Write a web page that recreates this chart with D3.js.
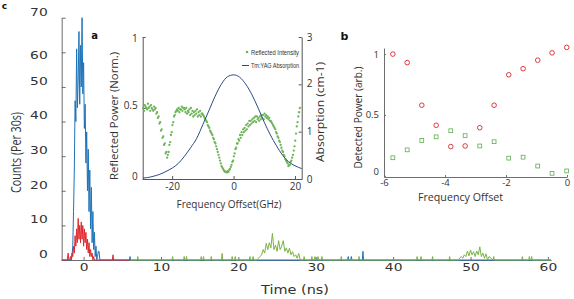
<!DOCTYPE html>
<html><head><meta charset="utf-8">
<script src="https://cdn.jsdelivr.net/npm/d3@7"></script>
<style>body{margin:0;background:#fff}svg{display:block}</style>
</head><body>
<svg id="c" width="574" height="299"></svg>
<script>
// ===== DATA =====
// main histogram (panel c)
const timeTicks = [0, 10, 20, 30, 40, 50, 60];
const countTicks = [0, 10, 20, 30, 40, 50, 60, 70];
const binStep = 0.1;
const blueStart = -1.6;
const blueCounts = [0,1,4,14,26,46,40,61,44,52,66,45,62,50,70,48,57,38,45,28,37,20,32,14,26,9,21,5,14,3,8,1,4,0,1,2.5,2.5,0];
const redStart = -2.2;
const redCounts = [0,0,2,0,0,1,0,2,1,4,2,7,4,9,5,12,6,10,5,11,6,10,4,9,5,8,3,6,2,5,1,3,1,2,0,1,0];
const blueSpikeTimes = [6.0, 34.2, 34.6, 36.1];
const blueSpikeCounts = [1, 1, 1, 2.5];
const redSpikeTimes = [3.8];
const redSpikeCounts = [1.5];
const greenSpikeTimes = [7.0,11.5,13.0,13.3,15.2,15.5,16.5,17.9,19.2,19.6,21.5,21.9,28.5,29.5,29.9,30.3,30.8,33.3,35.6,43.1,43.6,45.1,47.3,53.0,56.7,57.6,57.9];
const greenSpikeCounts = [1,1,1,1,1,1,1,1.9,1,1,1,1,1,1,1,1,1,1,1,1,1,1,1,1,1,1,1];
const greenCluster1Start = 22.6, greenClusterStep = 0.2;
const greenCluster1 = [0.5,1,1.5,3,2,4.8,3,5,3.5,7.7,3,4.3,2.5,5.6,3,4,5.6,2.5,3.5,2,3.4,1.5,2.4,1,1.5,0.5,1.9,0];
const greenCluster2Start = 48.6;
const greenCluster2 = [0.5,1,0.5,1.5,1,2.6,1.2,2.9,1.5,2.4,1,2.6,1.5,3.8,1,2,0.5,1.8,0,1];

// inset a
const freqTicksA = [-20, 0, 20];
const reflTicks = [0, 0.5, 1];
const absTicks = [0, 1, 2, 3];
const reflAStart = -29.4, reflStep = 0.5;
const reflA = [0.50,0.52,0.50,0.53,0.51,0.52,0.49,0.51,0.50,0.47,0.44,0.40,0.35,0.30,0.25,0.19,0.17,0.24,0.31,0.38,0.44,0.47,0.49,0.50,0.49,0.51,0.50,0.49,0.50,0.48,0.49,0.50,0.48,0.47,0.48,0.49,0.47,0.48,0.46,0.45,0.43,0.41,0.38,0.36,0.33,0.31,0.28,0.25,0.21,0.17,0.13,0.09,0.07,0.055,0.05,0.055,0.065,0.085,0.12,0.16,0.21,0.25,0.28,0.31,0.33,0.35,0.36,0.38,0.39,0.41,0.41,0.42,0.43,0.44,0.44,0.43,0.44,0.45,0.45,0.46,0.45,0.44,0.43,0.41,0.39,0.37,0.35,0.32,0.29,0.26,0.22,0.19,0.16,0.13,0.11,0.10,0.12,0.15,0.20,0.27,0.37,0.44,0.50];
const reflBStart = -29.15;
const reflB = [0.48,0.51,0.49,0.50,0.48,0.50,0.48,0.49,0.46,0.43,0.39,0.34,0.29,0.24,0.18,0.15,0.19,0.26,0.33,0.40,0.45,0.48,0.48,0.47,0.49,0.48,0.50,0.47,0.46,0.47,0.45,0.46,0.44,0.45,0.46,0.44,0.45,0.44,0.46,0.44,0.42,0.40,0.37,0.34,0.32,0.29,0.26,0.23,0.19,0.15,0.11,0.08,0.06,0.05,0.045,0.05,0.07,0.10,0.13,0.18,0.22,0.25,0.27,0.29,0.31,0.33,0.34,0.35,0.37,0.38,0.39,0.40,0.41,0.40,0.42,0.41,0.42,0.43,0.42,0.44,0.43,0.42,0.41,0.40,0.38,0.36,0.33,0.30,0.27,0.24,0.20,0.17,0.14,0.12,0.09,0.10,0.13,0.17,0.23,0.32,0.40,0.47];
const absFreq = [-29.5,-28,-26,-24,-22,-20,-18,-16,-14,-12,-10,-8,-6,-4,-2,0,2,4,6,8,10,12,14,16,18,20,22.2];
const absValues = [0.02,0.03,0.06,0.10,0.16,0.23,0.33,0.48,0.66,0.86,1.15,1.45,1.75,2.0,2.16,2.2,2.15,2.0,1.78,1.5,1.2,0.93,0.7,0.5,0.36,0.28,0.22];
const legendA = ["Reflected Intensity", "Tm:YAG Absorption"];

// panel b
const freqTicksB = [-6, -4, -2, 0];
const powerTicksB = [0, 0.5, 1];
const freqB = [-5.71,-5.24,-4.76,-4.29,-3.81,-3.34,-2.86,-2.39,-1.91,-1.44,-0.96,-0.49,-0.01];
const redB = [1.0,0.93,0.58,0.415,0.24,0.245,0.395,0.58,0.83,0.88,0.95,1.01,1.055];
const greenB = [0.148,0.213,0.29,0.32,0.37,0.33,0.245,0.28,0.145,0.153,0.08,0.02,0.04];

// ===== DRAW =====
const svg = d3.select('#c');
const BLUE = '#1f73b7', RED = '#e0282e', GREEN = '#78b443', AX = '#6e6e6e', TXT = '#333';
const plain = d => String(d);

function stretch(sel, perChar) {
  sel.attr('textLength', function(){ return this.textContent.length * perChar; })
     .attr('lengthAdjust', 'spacingAndGlyphs');
}

// ---- main panel c ----
const xM = d3.scaleLinear().domain([-2.83, 60.4]).range([61.7, 551]);
const yM = d3.scaleLinear().domain([0, 70]).range([260, 17.7]);

const gxM = svg.append('g').attr('transform', `translate(0,${yM(0)})`)
  .call(d3.axisBottom(xM).tickValues(timeTicks).tickFormat(plain).tickSize(-3).tickSizeOuter(0).tickPadding(4));
const gyM = svg.append('g').attr('transform', `translate(${xM.range()[0]},0)`)
  .call(d3.axisLeft(yM).tickValues(countTicks).tickFormat(plain).tickSize(-4).tickSizeOuter(0).tickPadding(14));
[gxM, gyM].forEach(g => {
  g.selectAll('path,line').attr('stroke', AX);
  g.selectAll('text').attr('font-family', 'DejaVu Sans').attr('font-size', 10.5).attr('fill', TXT);
  stretch(g.selectAll('text'), 8.8);
});
gyM.selectAll('text').attr('y', d => d === 60 ? 2.5 : -6);

const lineM = d3.line().x(d => xM(d[0])).y(d => yM(d[1]));
function bins(start, step, vals) { return vals.map((v, i) => [start + i * step, v]); }
function spikes(times, vals) {
  const p = [];
  times.forEach((t, i) => { p.push([t - 0.08, 0], [t, vals[i]], [t + 0.08, 0]); });
  return p;
}
const byT = (a, b) => a[0] - b[0];

const bluePts = [[-2.83, 0], ...bins(blueStart, binStep, blueCounts), ...spikes(blueSpikeTimes, blueSpikeCounts), [60.4, 0]].sort(byT);
const redPts = [[-2.83, 0], ...bins(redStart, binStep, redCounts), ...spikes(redSpikeTimes, redSpikeCounts), [6.0, 0]].sort(byT);
const greenPts = [[6.0, 0], ...spikes(greenSpikeTimes, greenSpikeCounts),
  [greenCluster1Start - 0.2, 0], ...bins(greenCluster1Start, greenClusterStep, greenCluster1),
  [greenCluster2Start - 0.2, 0], ...bins(greenCluster2Start, greenClusterStep, greenCluster2), [60.4, 0]].sort(byT);

svg.append('path').attr('d', lineM(bluePts)).attr('fill', 'none').attr('stroke', BLUE).attr('stroke-width', 1);
svg.append('path').attr('d', lineM(redPts)).attr('fill', 'none').attr('stroke', RED).attr('stroke-width', 1);
svg.append('path').attr('d', lineM(greenPts)).attr('fill', 'none').attr('stroke', GREEN).attr('stroke-width', 1);

svg.append('text').attr('x', 295).attr('y', 289).attr('text-anchor', 'middle').attr('dominant-baseline', 'central')
  .attr('font-family', 'DejaVu Sans').attr('font-size', 12.5).attr('fill', TXT)
  .attr('textLength', 68).attr('lengthAdjust', 'spacingAndGlyphs').text('Time (ns)');
svg.append('text').attr('transform', 'translate(15,152.5) rotate(-90)').attr('text-anchor', 'middle').attr('dominant-baseline', 'central')
  .attr('font-family', 'Open Sans').attr('font-size', 15).attr('fill', TXT)
  .attr('textLength', 81).attr('lengthAdjust', 'spacingAndGlyphs').text('Counts (Per 30s)');

// ---- inset a ----
const xA = d3.scaleLinear().domain([-29.6, 22.2]).range([142.7, 301.7]);
const yAL = d3.scaleLinear().domain([0, 1]).range([179, 37]);
const yAR = d3.scaleLinear().domain([0, 3]).range([179, 37]);

const gxA = svg.append('g').attr('transform', `translate(0,${yAL(0)})`)
  .call(d3.axisBottom(xA).tickValues(freqTicksA).tickFormat(plain).tickSize(-3).tickSizeOuter(0).tickPadding(4));
const gyAL = svg.append('g').attr('transform', `translate(${xA.range()[0]},0)`)
  .call(d3.axisLeft(yAL).tickValues(reflTicks).tickFormat(plain).tickSize(-3).tickSizeOuter(0).tickPadding(5));
const gyAR = svg.append('g').attr('transform', `translate(${xA.range()[1]},0)`)
  .call(d3.axisRight(yAR).tickValues(absTicks).tickFormat(plain).tickSize(-3).tickSizeOuter(0).tickPadding(5));
[gxA, gyAL, gyAR].forEach(g => {
  g.selectAll('path,line').attr('stroke', '#555');
  g.selectAll('text').attr('font-family', 'Open Sans').attr('font-size', 10).attr('fill', TXT);
});
gyAL.selectAll('text').attr('y', d => d === 1 ? 1 : -3);
gyAR.selectAll('text').attr('y', d => d === 2 ? -1 : 0);

const dotsA = [...bins(reflAStart, reflStep, reflA), ...bins(reflBStart, reflStep, reflB)];
svg.append('g').selectAll('circle').data(dotsA).join('circle')
  .attr('cx', d => xA(d[0])).attr('cy', d => yAL(d[1])).attr('r', 1.15).attr('fill', '#6db35a');
const absLine = d3.line().x((d, i) => xA(absFreq[i])).y(d => yAR(d)).curve(d3.curveMonotoneX);
svg.append('path').attr('d', absLine(absValues)).attr('fill', 'none').attr('stroke', '#2d4a86').attr('stroke-width', 1);

// legend
svg.append('circle').attr('cx', 247).attr('cy', 52).attr('r', 1.3).attr('fill', '#6db35a');
svg.append('line').attr('x1', 242).attr('x2', 249).attr('y1', 65.5).attr('y2', 65.5).attr('stroke', '#2d4a86');
legendA.forEach((t, i) => {
  svg.append('text').attr('x', 251).attr('y', 52 + i * 13.5).attr('dominant-baseline', 'central')
    .attr('font-family', 'Liberation Sans').attr('font-size', 7.5).attr('fill', '#333')
    .attr('textLength', 48).attr('lengthAdjust', 'spacingAndGlyphs').text(t);
});

svg.append('text').attr('transform', 'translate(113.5,116) rotate(-90)').attr('text-anchor', 'middle').attr('dominant-baseline', 'central')
  .attr('font-family', 'Open Sans').attr('font-size', 11.5).attr('fill', TXT)
  .attr('textLength', 128).attr('lengthAdjust', 'spacingAndGlyphs').text('Reflected Power (Norm.)');
svg.append('text').attr('transform', 'translate(319,112) rotate(-90)').attr('text-anchor', 'middle').attr('dominant-baseline', 'central')
  .attr('font-family', 'Open Sans').attr('font-size', 11.5).attr('fill', TXT)
  .attr('textLength', 100).attr('lengthAdjust', 'spacingAndGlyphs').text('Absorption (cm-1)');
svg.append('text').attr('x', 229).attr('y', 203).attr('text-anchor', 'middle').attr('dominant-baseline', 'central')
  .attr('font-family', 'Open Sans').attr('font-size', 11.5).attr('fill', TXT)
  .attr('textLength', 105).attr('lengthAdjust', 'spacingAndGlyphs').text('Frequency Offset(GHz)');

// ---- panel b ----
const xB = d3.scaleLinear().domain([-6, 0]).range([384, 567]);
const yB = d3.scaleLinear().domain([-0.01, 1.05]).range([177, 48]);
const gxB = svg.append('g').attr('transform', `translate(0,${yB.range()[0]})`)
  .call(d3.axisBottom(xB).tickValues(freqTicksB).tickFormat(plain).tickSize(-2).tickSizeOuter(0).tickPadding(2));
const gyB = svg.append('g').attr('transform', `translate(${xB.range()[0]},0)`)
  .call(d3.axisLeft(yB).tickValues(powerTicksB).tickFormat(plain).tickSize(-2).tickSizeOuter(0).tickPadding(5));
[gxB, gyB].forEach(g => {
  g.selectAll('path,line').attr('stroke', AX);
  g.selectAll('text').attr('font-family', 'Open Sans').attr('font-size', 9.5).attr('fill', TXT);
});
gyB.selectAll('text').attr('y', d => d === 0 ? -4 : 0);

svg.append('g').selectAll('circle').data(freqB).join('circle')
  .attr('cx', d => xB(d)).attr('cy', (d, i) => yB(redB[i])).attr('r', 2.3)
  .attr('fill', 'none').attr('stroke', '#d9262c').attr('stroke-width', 0.9);
svg.append('g').selectAll('rect').data(freqB).join('rect')
  .attr('x', d => xB(d) - 1.9).attr('y', (d, i) => yB(greenB[i]) - 1.9).attr('width', 3.8).attr('height', 3.8)
  .attr('fill', 'none').attr('stroke', '#5cae4f').attr('stroke-width', 0.8);

svg.append('text').attr('transform', 'translate(357,117.5) rotate(-90)').attr('text-anchor', 'middle').attr('dominant-baseline', 'central')
  .attr('font-family', 'Open Sans').attr('font-size', 11.5).attr('fill', TXT)
  .attr('textLength', 102).attr('lengthAdjust', 'spacingAndGlyphs').text('Detected Power (arb.)');
svg.append('text').attr('x', 460.5).attr('y', 196).attr('text-anchor', 'middle').attr('dominant-baseline', 'central')
  .attr('font-family', 'Open Sans').attr('font-size', 11).attr('fill', TXT)
  .attr('textLength', 85).attr('lengthAdjust', 'spacingAndGlyphs').text('Frequency Offset');

// panel letters
[['c', 4.5, 6, 9], ['a', 94.5, 35, 10], ['b', 344.5, 36, 11]].forEach(([t, x, y, s]) => {
  svg.append('text').attr('x', x).attr('y', y).attr('text-anchor', 'middle').attr('dominant-baseline', 'central')
    .attr('font-family', 'DejaVu Sans').attr('font-weight', 'bold').attr('font-size', s).attr('fill', '#111').text(t);
});
</script>
</body></html>
